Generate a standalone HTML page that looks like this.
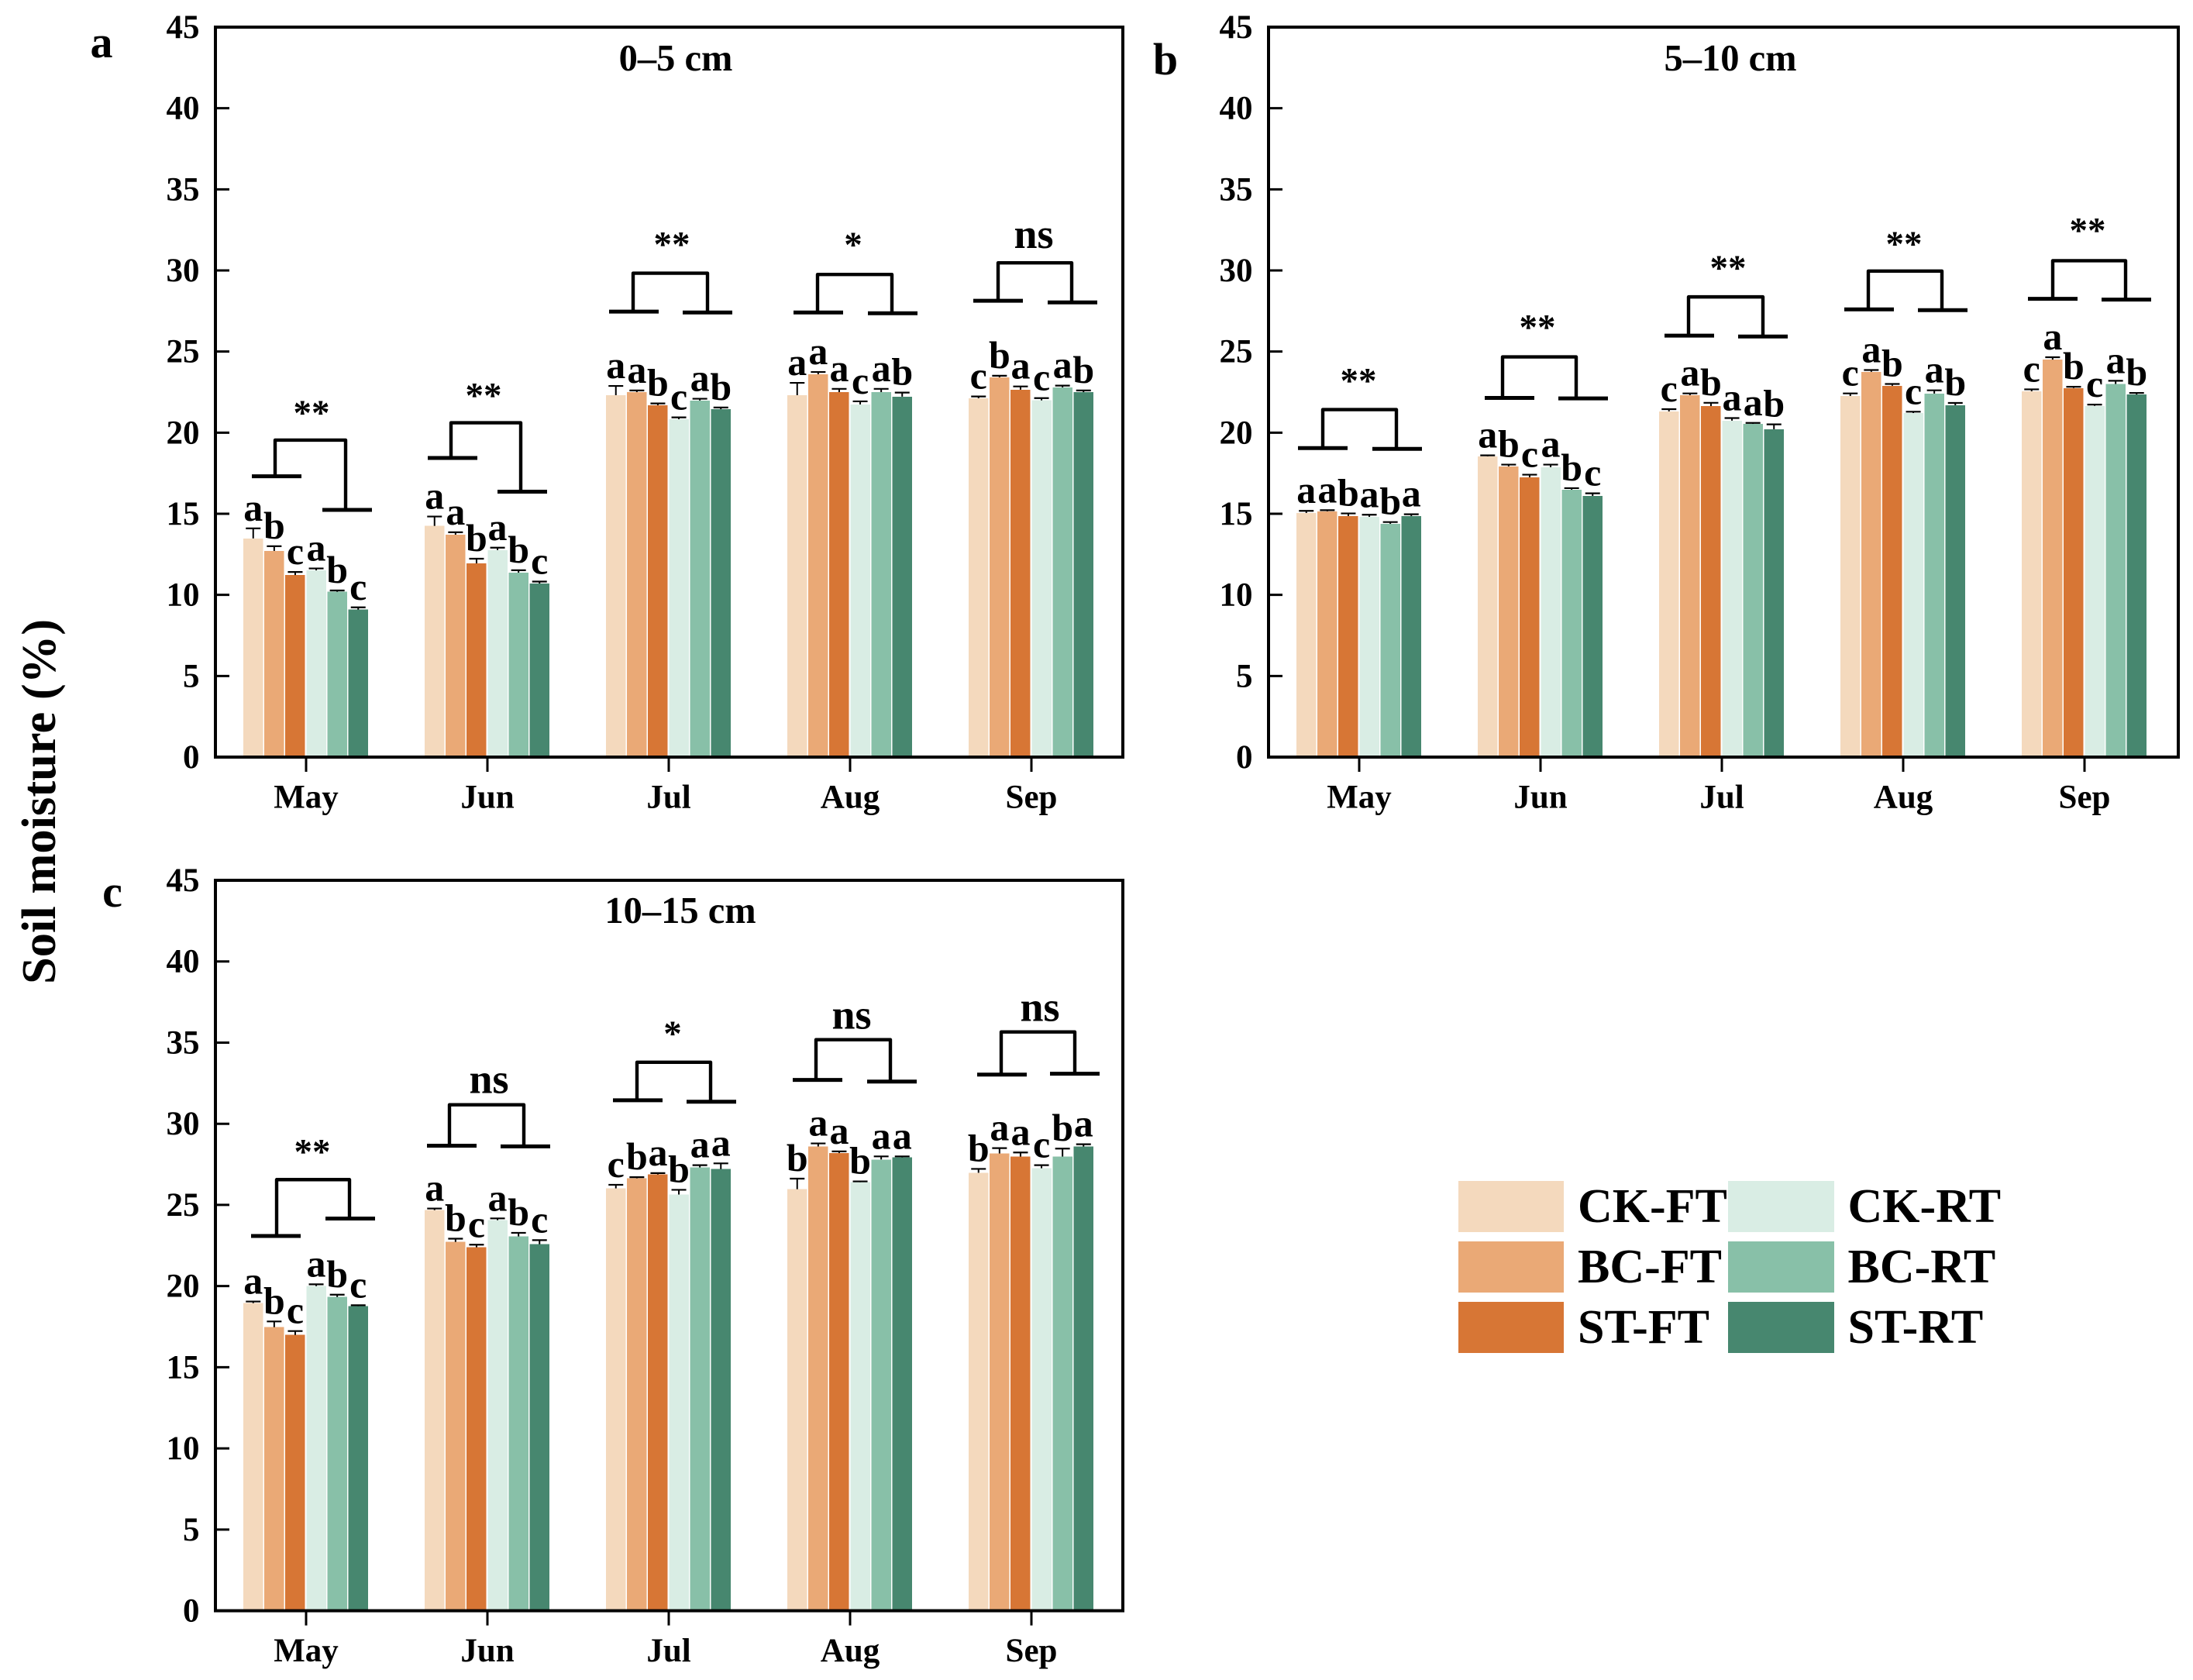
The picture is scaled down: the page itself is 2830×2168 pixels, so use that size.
<!DOCTYPE html>
<html lang="en">
<head>
<meta charset="utf-8">
<title>Soil moisture by depth and month</title>
<style>
html,body{margin:0;padding:0;background:#fff;}
svg{display:block;}
text{font-family:"Liberation Serif",serif;font-weight:bold;fill:#000;}
</style>
</head>
<body>
<svg id="chart" xmlns="http://www.w3.org/2000/svg" width="2830" height="2168" viewBox="0 0 2830 2168">
  <rect x="0" y="0" width="2830" height="2168" fill="#ffffff"/>
  <text transform="translate(71 1034.5) rotate(-90)" text-anchor="middle" font-size="62.5">Soil moisture (%)</text>
  <g>
    <rect x="1882" y="1524" width="136" height="66" fill="#F4D9BD"/>
    <text x="2036" y="1577" font-size="62">CK-FT</text>
    <rect x="1882" y="1602" width="136" height="66" fill="#EAA976"/>
    <text x="2036" y="1655" font-size="62">BC-FT</text>
    <rect x="1882" y="1680" width="136" height="66" fill="#D77635"/>
    <text x="2036" y="1733" font-size="62">ST-FT</text>
    <rect x="2230" y="1524" width="137" height="66" fill="#D9EDE4"/>
    <text x="2384.5" y="1577" font-size="62">CK-RT</text>
    <rect x="2230" y="1602" width="137" height="66" fill="#88C0A8"/>
    <text x="2384.5" y="1655" font-size="62">BC-RT</text>
    <rect x="2230" y="1680" width="137" height="66" fill="#47876F"/>
    <text x="2384.5" y="1733" font-size="62">ST-RT</text>
  </g>
</svg>
<script>
// ---------- shared categories ----------
const months = ['May', 'Jun', 'Jul', 'Aug', 'Sep'];
const treatments = ['CK-FT', 'BC-FT', 'ST-FT', 'CK-RT', 'BC-RT', 'ST-RT'];
const yTickLabels = [0, 5, 10, 15, 20, 25, 30, 35, 40, 45];

// ---------- panel a (0-5 cm) ----------
const valuesA = [
  [13.48, 12.71, 11.22, 11.51, 10.19, 9.09],
  [14.25, 13.71, 11.94, 12.76, 11.37, 10.70],
  [22.31, 22.50, 21.69, 20.83, 21.98, 21.45],
  [22.31, 23.60, 22.50, 21.74, 22.50, 22.22],
  [22.12, 23.41, 22.65, 21.99, 22.79, 22.50]
];
const errorsA = [
  [0.62, 0.29, 0.19, 0.12, 0.08, 0.14],
  [0.58, 0.15, 0.29, 0.15, 0.15, 0.12],
  [0.57, 0.10, 0.11, 0.11, 0.11, 0.10],
  [0.76, 0.14, 0.20, 0.19, 0.20, 0.25],
  [0.11, 0.10, 0.20, 0.14, 0.11, 0.10]
];
const lettersA = [
  ['a', 'b', 'c', 'a', 'b', 'c'],
  ['a', 'a', 'b', 'a', 'b', 'c'],
  ['a', 'a', 'b', 'c', 'a', 'b'],
  ['a', 'a', 'a', 'c', 'a', 'b'],
  ['c', 'b', 'a', 'c', 'a', 'b']
];
const sigA = ['**', '**', '**', '*', 'ns'];
const bracketTopA = [19.54, 20.61, 29.83, 29.75, 30.47];
const bracketLeftA = [17.31, 18.44, 27.46, 27.41, 28.13];
const bracketRightA = [15.24, 16.36, 27.41, 27.36, 28.03];

// ---------- panel b (5-10 cm) ----------
const valuesB = [
  [15.05, 15.15, 14.86, 14.81, 14.38, 14.86],
  [18.54, 17.92, 17.25, 17.87, 16.48, 16.10],
  [21.31, 22.31, 21.64, 20.74, 20.54, 20.21],
  [22.26, 23.75, 22.89, 21.21, 22.41, 21.69],
  [22.55, 24.50, 22.75, 21.65, 23.00, 22.35]
];
const errorsB = [
  [0.13, 0.07, 0.16, 0.13, 0.11, 0.11],
  [0.06, 0.11, 0.16, 0.16, 0.10, 0.16],
  [0.14, 0.11, 0.20, 0.16, 0.06, 0.30],
  [0.16, 0.11, 0.11, 0.08, 0.20, 0.14],
  [0.12, 0.15, 0.08, 0.08, 0.20, 0.10]
];
const lettersB = [
  ['a', 'a', 'b', 'a', 'b', 'a'],
  ['a', 'b', 'c', 'a', 'b', 'c'],
  ['c', 'a', 'b', 'a', 'a', 'b'],
  ['c', 'a', 'b', 'c', 'a', 'b'],
  ['c', 'a', 'b', 'c', 'a', 'b']
];
const sigB = ['**', '**', '**', '**', '**'];
const bracketTopB = [21.42, 24.67, 28.37, 29.96, 30.60];
const bracketLeftB = [19.05, 22.14, 25.98, 27.60, 28.25];
const bracketRightB = [19.00, 22.11, 25.93, 27.55, 28.20];

// ---------- panel c (10-15 cm) ----------
const valuesC = [
  [18.95, 17.47, 16.99, 20.00, 19.33, 18.76],
  [24.68, 22.72, 22.39, 24.06, 23.06, 22.58],
  [26.02, 26.64, 26.88, 25.64, 27.31, 27.21],
  [25.97, 28.60, 28.20, 26.40, 27.80, 27.93],
  [26.98, 28.17, 27.98, 27.26, 27.98, 28.60]
];
const errorsC = [
  [0.10, 0.35, 0.24, 0.11, 0.14, 0.06],
  [0.10, 0.20, 0.16, 0.11, 0.22, 0.25],
  [0.22, 0.07, 0.08, 0.29, 0.14, 0.35],
  [0.65, 0.19, 0.10, 0.05, 0.19, 0.06],
  [0.24, 0.33, 0.25, 0.19, 0.49, 0.14]
];
const lettersC = [
  ['a', 'b', 'c', 'a', 'b', 'c'],
  ['a', 'b', 'c', 'a', 'b', 'c'],
  ['c', 'b', 'a', 'b', 'a', 'a'],
  ['b', 'a', 'a', 'b', 'a', 'a'],
  ['b', 'a', 'a', 'c', 'b', 'a']
];
const sigC = ['**', 'ns', '*', 'ns', 'ns'];
const bracketTopC = [26.56, 31.17, 33.79, 35.18, 35.66];
const bracketLeftC = [23.09, 28.65, 31.45, 32.70, 33.03];
const bracketRightC = [24.16, 28.61, 31.36, 32.60, 33.08];

// ---------- rendering ----------
const NS = 'http://www.w3.org/2000/svg';
const svg = document.getElementById('chart');
const seriesColors = ['#F4D9BD', '#EAA976', '#D77635', '#D9EDE4', '#88C0A8', '#47876F'];
const BLACK = '#000000';

function mk(parent, tag, attrs, text) {
  const el = document.createElementNS(NS, tag);
  for (const k in attrs) el.setAttribute(k, attrs[k]);
  if (text !== undefined) el.textContent = text;
  parent.appendChild(el);
  return el;
}

function drawPanel(p) {
  const g = mk(svg, 'g', {});
  
  

  const yScale = function (v) { return p.y0 - v * (p.y0 - p.yTop) / 45; };
  const xGroup = function (i) { return p.firstCenter + i * 234; };
  const xBar = function (i, s) { return xGroup(i) - 81 + s * 27.1; };

  months.forEach(function (month, i) {
    treatments.forEach(function (name, s) {
      const val = p.values[i][s];
      const err = p.errors[i][s];
      const x = xBar(i, s);
      const cx = x + 12.75;
      const top = yScale(val);
      const capY = yScale(val + err);

      const bar = mk(g, 'rect', { x: x, y: top, width: 25.5, height: p.y0 - top, fill: seriesColors[s], 'shape-rendering': 'crispEdges' });
      
      

      const stem = mk(g, 'line', { x1: cx, x2: cx, y1: top, y2: capY, stroke: BLACK, 'stroke-width': 2 });
      
      

      const cap = mk(g, 'line', { x1: cx - 9.5, x2: cx + 9.5, y1: capY, y2: capY, stroke: BLACK, 'stroke-width': 2.2 });
      
      

      const letter = mk(g, 'text', { x: cx, y: capY - 10, 'text-anchor': 'middle', 'font-size': 50 }, p.letters[i][s]);
      
      
    });

    // comparison bracket between FT and RT groups
    const o = p.bracketOffsets[i];
    const c = xGroup(i);
    const yL = yScale(p.bracketLeft[i]);
    const yR = yScale(p.bracketRight[i]);
    const yT = yScale(p.bracketTop[i]);
    const path = mk(g, 'path', {
      d: 'M' + (c + o[1]) + ' ' + yL + ' V' + yT + ' H' + (c + o[3]) + ' V' + yR,
      fill: 'none', stroke: BLACK, 'stroke-width': 4.4, 'stroke-linejoin': 'round'
    });
    
    

    const barL = mk(g, 'line', { x1: c + o[0], x2: c + o[0] + 64, y1: yL, y2: yL, stroke: BLACK, 'stroke-width': 5 });
    
    

    const barR = mk(g, 'line', { x1: c + o[2], x2: c + o[2] + 64, y1: yR, y2: yR, stroke: BLACK, 'stroke-width': 5 });
    
    

    const isNs = p.sig[i] === 'ns';
    const sigText = mk(g, 'text', {
      x: c + o[4], y: yT + o[5], 'text-anchor': 'middle', 'font-size': isNs ? 54 : 47
    }, p.sig[i]);
    
    

    // x axis tick and label
    const tick = mk(g, 'line', { x1: c, x2: c, y1: p.y0, y2: p.y0 + 19, stroke: BLACK, 'stroke-width': 3 });
    
    

    const lab = mk(g, 'text', { x: c, y: p.y0 + 65.5, 'text-anchor': 'middle', 'font-size': 43 }, month);
    
    
  });

  yTickLabels.forEach(function (v) {
    const y = yScale(v);
    if (v > 0 && v < 45) {
      const t = mk(g, 'line', { x1: p.x0, x2: p.x0 + 18, y1: y, y2: y, stroke: BLACK, 'stroke-width': 3 });
      
      
    }
    const lab = mk(g, 'text', { x: p.x0 - 20.5, y: y + 14, 'text-anchor': 'end', 'font-size': 43 }, String(v));
    
    
  });

  const frame = mk(g, 'rect', { x: p.x0, y: p.yTop, width: p.x1 - p.x0, height: p.y0 - p.yTop, fill: 'none', stroke: BLACK, 'stroke-width': 4 });
  
  

  const title = mk(g, 'text', { x: p.titleX, y: p.titleY, 'text-anchor': 'middle', 'font-size': 48.5 }, p.title);
  
  

  const tag = mk(g, 'text', { x: p.tagX, y: p.tagY, 'text-anchor': 'middle', 'font-size': 58 }, p.id);
  
  
}

// bracket placement: [left bar start, left stem, right bar start, right stem, label x, label y shift]
drawPanel({
  id: 'a', title: '0–5 cm', x0: 278, x1: 1449, yTop: 35, y0: 977, firstCenter: 395,
  titleX: 872, titleY: 91, tagX: 131, tagY: 74,
  values: valuesA, errors: errorsA, letters: lettersA, sig: sigA,
  bracketTop: bracketTopA, bracketLeft: bracketLeftA, bracketRight: bracketRightA,
  bracketOffsets: [[-70, -40, 21, 51, 7, -20], [-77, -47, 13, 43, -5, -20], [-77, -46, 18, 50, 4, -22], [-73, -42, 23, 54, 4, -23], [-75, -43, 21, 52, 3, -19]]
});
drawPanel({
  id: 'b', title: '5–10 cm', x0: 1637, x1: 2811, yTop: 35, y0: 977, firstCenter: 1754,
  titleX: 2233, titleY: 91, tagX: 1504, tagY: 96,
  values: valuesB, errors: errorsB, letters: lettersB, sig: sigB,
  bracketTop: bracketTopB, bracketLeft: bracketLeftB, bracketRight: bracketRightB,
  bracketOffsets: [[-79, -47, 17, 48, -1, -22], [-72, -49, 23, 46, -4, -23], [-74, -43, 21, 53, 8, -22], [-76, -45, 19, 50, 1, -20], [-73, -41, 22, 53, 4, -24]]
});
drawPanel({
  id: 'c', title: '10–15 cm', x0: 278, x1: 1449, yTop: 1136, y0: 2078.6, firstCenter: 395,
  titleX: 878, titleY: 1191, tagX: 145, tagY: 1170,
  values: valuesC, errors: errorsC, letters: lettersC, sig: sigC,
  bracketTop: bracketTopC, bracketLeft: bracketLeftC, bracketRight: bracketRightC,
  bracketOffsets: [[-71, -38, 25, 56, 8, -21], [-78, -49, 17, 47, 2, -15], [-72, -41, 23, 54, 5, -22], [-74, -44, 22, 52, 2, -14], [-70, -39, 24, 56, 11, -14]]
});
</script>
</body>
</html>
